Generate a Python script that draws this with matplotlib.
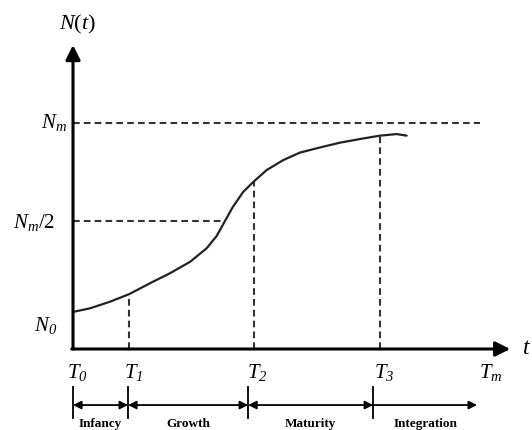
import matplotlib
matplotlib.use('Agg')
import matplotlib.pyplot as plt

plt.rcParams['font.family'] = 'Liberation Serif'
plt.rcParams['mathtext.fontset'] = 'custom'
plt.rcParams['mathtext.rm'] = 'Liberation Serif'
plt.rcParams['mathtext.it'] = 'Liberation Serif:italic'
plt.rcParams['mathtext.cal'] = 'Liberation Serif:italic'  # italic digits

# time marks (T0, T1, T2, T3, Tm) and their labels
t_marks = [0, 13.6, 43.6, 74.1, 100]
t_labels = [r'$T_{\mathcal{0}}$', r'$T_{\mathcal{1}}$', r'$T_{\mathcal{2}}$',
            r'$T_{\mathcal{3}}$', r'$T_m$']

# levels on the N axis
n_max = 100
n_half = 56.6

# S-shaped growth curve
curve_t = [0, 4.1, 8.9, 13.6, 18.6, 23.4, 28.3, 32.3, 34.7, 36.7, 38.6, 41.1,
           43.6, 46.8, 50.8, 54.8, 59.7, 64.5, 69.3, 74.1, 78.2, 80.6]
curve_n = [16.4, 18.0, 20.9, 24.3, 29.1, 33.5, 38.6, 44.6, 50.0, 56.6, 62.8, 69.5,
           74.0, 79.2, 83.6, 86.9, 89.2, 91.3, 92.9, 94.4, 95.1, 94.4]

# life-cycle phases
phase_bounds = [0, 13.3, 42.3, 72.5, 97.6]
phase_names = ['Infancy', 'Growth', 'Maturity', 'Integration']

sx, sy = 4.14, 2.26  # px per unit
fig = plt.figure(figsize=(5.32, 4.30), dpi=100)
ax = fig.add_axes([0, 0, 1, 1])
ax.set_xlim(-73 / sx, (532 - 73) / sx)
ax.set_ylim(-(430 - 349) / sy, 349 / sy)
ax.axis('off')

dash = dict(color='#333333', lw=1.5, dashes=(3.2, 2.0))

# axes with arrows
ax.annotate('', xy=(0, 134.5), xytext=(0, 0),
            arrowprops=dict(arrowstyle='-|>', mutation_scale=22, lw=2.2, color='black',
                            shrinkA=0, shrinkB=0))
ax.annotate('', xy=(105.6, 0), xytext=(-0.3, 0),
            arrowprops=dict(arrowstyle='-|>', mutation_scale=22, lw=2.2, color='black',
                            shrinkA=0, shrinkB=0))

# reference lines
ax.plot([0, 98.3], [n_max, n_max], **dash)
ax.plot([0, curve_t[9]], [n_half, n_half], **dash)
for t, n in zip(t_marks[1:4], [curve_n[3], curve_n[12], curve_n[19]]):
    ax.plot([t, t], [0, n], **dash)

ax.plot(curve_t, curve_n, color='#222222', lw=1.6, solid_capstyle='round',
        solid_joinstyle='round')

# labels
ax.text(1.0, 143.4, r'$N(t)$', fontsize=16, ha='center', va='center')
ax.text(-1.45, n_max, r'$N_m$', fontsize=15, ha='right', va='center')
ax.text(-4.3, 55.8, r'$N_m/2$', fontsize=15, ha='right', va='center')
ax.text(-3.9, 10.6, r'$N_{\mathcal{0}}$', fontsize=15, ha='right', va='center')
ax.text(108.5, 0, r'$t$', fontsize=17, ha='left', va='center')
for t, lab in zip(t_marks, t_labels):
    ax.text(t + 1.0, -10.6, lab, fontsize=15, ha='center', va='center')

# phase bars
for b in phase_bounds[:4]:
    ax.plot([b, b], [-16.8, -30.5], color='black', lw=1.3)
for i in range(4):
    style = '<|-|>' if i < 3 else '-|>'
    ax.annotate('', xy=(phase_bounds[i + 1], -24.8), xytext=(phase_bounds[i], -24.8),
                arrowprops=dict(arrowstyle=style, mutation_scale=12, lw=1.3, color='black',
                                shrinkA=0, shrinkB=0))
    ax.text((phase_bounds[i] + phase_bounds[i + 1]) / 2, -30.4, phase_names[i],
            fontsize=9.5, fontweight='bold', ha='center', va='top')

fig.savefig('out.png', dpi=100)
